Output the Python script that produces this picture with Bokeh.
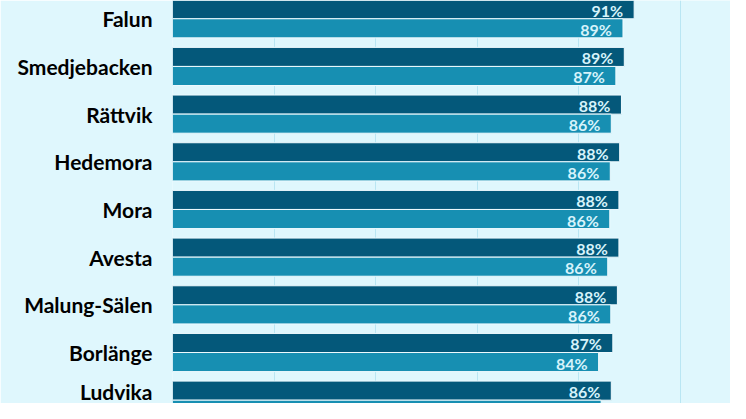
from bokeh.plotting import figure
from bokeh.models import Range1d, FixedTicker, CustomJSTickFormatter, ColumnDataSource
from bokeh.core.properties import value
from bokeh.embed import file_html
from bokeh.resources import INLINE

categories = ["Falun", "Smedjebacken", "Rättvik", "Hedemora", "Mora",
              "Avesta", "Malung-Sälen", "Borlänge", "Ludvika"]
series_a = [90.9, 88.96, 88.4, 88.05, 87.9, 87.9, 87.6, 86.7, 86.4]
series_b = [88.7, 87.3, 86.4, 86.2, 86.1, 85.7, 86.3, 83.9, 84.4]
grid_ticks = [0, 20, 40, 60, 80, 100]

BG = "#DFF7FD"
DARK = "#04587A"
LIGHT = "#178FB2"
LABEL = "#D6F3FB"

W, H = 730, 403
sx, sy = W / 746, H / 419
left_border = 172
px_per_unit_x = 5.19 * sx
px_per_unit_y = 49.57 * sy
top_center = 19 * sy
y_end = top_center / px_per_unit_y
y_start = y_end - H / px_per_unit_y
x_end = (W - left_border) / px_per_unit_x

p = figure(width=W, height=H, output_backend="svg", toolbar_location=None,
           x_range=Range1d(0, x_end), y_range=Range1d(y_start, y_end),
           min_border_left=left_border, min_border_right=0,
           min_border_top=0, min_border_bottom=0)
p.background_fill_color = BG
p.border_fill_color = BG
p.outline_line_color = None

centers = [-i for i in range(len(categories))]
src = ColumnDataSource(dict(
    cat=categories,
    ya=[c + 0.2 for c in centers],
    yb=[c - 0.2 for c in centers],
    a=series_a, b=series_b,
    la=[f"{int(round(v))}%" for v in series_a],
    lb=[f"{int(round(v))}%" for v in series_b],
))

p.hbar(y="ya", left=0, right="a", height=0.4, source=src,
       fill_color=DARK, line_color="#EEFAFE", line_width=1)
p.hbar(y="yb", left=0, right="b", height=0.4, source=src,
       fill_color=LIGHT, line_color="#EEFAFE", line_width=1)

for xcol, ycol, tcol in (("a", "ya", "la"), ("b", "yb", "lb")):
    p.text(x=xcol, y=ycol, text=tcol, source=src, x_offset=-11, y_offset=1,
           text_align="right", text_baseline="middle", text_color=LABEL,
           text_font=value("Lato"), text_font_style="bold", text_font_size="16px")

p.xaxis.visible = False
p.xgrid.ticker = FixedTicker(ticks=grid_ticks)
p.xgrid.grid_line_color = "#B9E6F3"
p.xgrid.grid_line_width = 1
p.ygrid.grid_line_color = None

p.yaxis.ticker = FixedTicker(ticks=centers)
p.yaxis.formatter = CustomJSTickFormatter(args=dict(names=categories),
                                          code="return names[Math.round(-tick)] || '';")
p.yaxis.axis_line_color = None
p.yaxis.major_tick_line_color = None
p.yaxis.minor_tick_line_color = None
p.yaxis.major_tick_out = 0
p.yaxis.major_tick_in = 0
p.yaxis.major_label_standoff = 20
p.yaxis.major_label_text_font = "Lato"
p.yaxis.major_label_text_font_style = "bold"
p.yaxis.major_label_text_font_size = "21px"
p.yaxis.major_label_text_color = "#000000"

open("out.html", "w").write(file_html(p, INLINE))
